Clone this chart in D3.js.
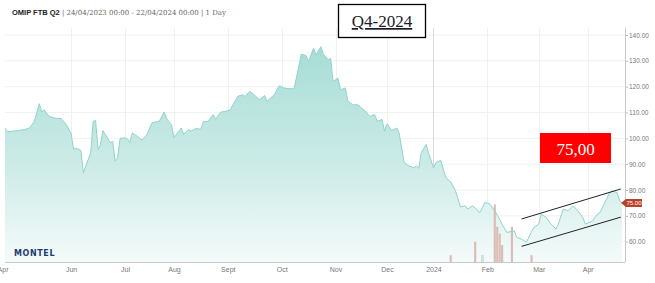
<!DOCTYPE html>
<html>
<head>
<meta charset="utf-8">
<script src="https://cdn.jsdelivr.net/npm/d3@7"></script>
<style>
  body { margin: 0; background: #fff; }
  svg { display: block; }
  .axis text { font-family: "Liberation Sans", Arial, sans-serif; fill: #777; }
</style>
</head>
<body>
<div id="chart"></div>
<script>
// trading-day index since 24/04/2023 and closing price (EUR/MWh)
const days = [0, 1, 5, 8, 10, 12, 14, 15, 16, 18, 20, 23, 25, 27, 28, 29, 31, 32, 35, 36, 37, 38, 39, 40, 41, 43, 44, 45, 46, 47, 49, 50, 51, 52, 54, 56, 58, 60, 63, 65, 66, 68, 69, 72, 73, 75, 76, 78, 80, 81, 83, 85, 86, 88, 91, 92, 95, 97, 98, 100, 102, 104, 106, 107, 110, 112, 114, 116, 118, 119, 121, 123, 124, 126, 127, 129, 130, 132, 133, 134, 136, 137, 139, 140, 142, 144, 147, 149, 151, 152, 154, 155, 156, 158, 160, 161, 163, 165, 167, 168, 169, 170, 172, 173, 175, 176, 178, 180, 182, 184, 186, 188, 189, 191, 194, 196, 198, 200, 202, 203, 205, 207, 208, 209, 211, 213, 214, 216, 218, 219, 221, 223, 225, 226, 228, 230, 232, 234, 236, 237, 240, 242, 243, 245, 247, 248, 250, 251, 252];
const prices = [104.0, 102.5, 103.0, 103.4, 104.0, 106.6, 113.4, 110.2, 111.0, 108.5, 107.9, 107.6, 105.3, 102.0, 95.7, 96.3, 95.3, 86.7, 94.4, 106.6, 106.9, 95.7, 97.6, 103.0, 101.5, 98.3, 98.9, 91.2, 92.5, 100.0, 100.2, 99.8, 98.5, 102.1, 100.8, 99.3, 101.5, 106.0, 106.6, 110.2, 107.6, 105.3, 100.2, 104.0, 101.5, 103.4, 102.8, 103.8, 103.5, 106.4, 106.6, 109.2, 107.3, 110.1, 110.7, 111.1, 116.2, 116.9, 116.2, 118.2, 116.6, 115.0, 116.6, 114.3, 116.9, 120.4, 119.5, 119.2, 119.2, 123.3, 132.6, 132.0, 129.7, 134.9, 132.3, 135.5, 132.6, 130.4, 131.0, 122.0, 123.3, 118.8, 119.5, 114.6, 113.0, 113.0, 110.7, 108.5, 109.2, 106.6, 107.3, 102.8, 105.6, 103.0, 104.0, 102.0, 90.6, 89.3, 88.6, 89.3, 88.4, 94.4, 97.6, 94.4, 88.6, 90.6, 91.5, 84.8, 83.2, 79.7, 73.5, 73.9, 72.6, 73.9, 71.3, 75.2, 74.6, 72.0, 68.7, 66.8, 63.6, 64.0, 64.2, 61.7, 61.0, 59.8, 61.9, 65.5, 66.8, 70.7, 69.4, 66.8, 64.9, 66.8, 72.6, 72.0, 73.9, 72.0, 69.4, 66.8, 68.1, 70.7, 71.3, 75.2, 79.0, 79.7, 79.0, 75.8, 75.0];

// traded volume bars
const volDays = [182, 192, 195, 200, 201, 202, 203, 207, 215];
const volumes = [10, 30, 10, 85, 52, 42, 25, 52, 10];

// month labels on the x axis
const monthLabels = ["Apr", "Jun", "Jul", "Aug", "Sept", "Oct", "Nov", "Dec", "2024", "Feb", "Mar", "Apr"];
const monthDays = [-1, 27, 49, 69, 91, 113, 135, 156, 175, 197, 218, 238];

const yTicks = [60, 70, 80, 90, 100, 110, 120, 130, 140];

// hand drawn trend channel
const channelDays = [211, 251.5];
const channelUpper = [68.8, 80.4];
const channelLower = [58.2, 69.5];

const lastPrice = 75.00;

const width = 655, height = 283;
const svg = d3.select("#chart").append("svg")
  .attr("width", width)
  .attr("height", height);

const x = d3.scaleLinear().domain([0, 252]).range([5, 622]);
const y = d3.scaleLinear().domain([60, 140]).range([241.7, 35]);
const plotTop = 28, plotBottom = 262, axisX = 625;
const yVol = d3.scaleLinear().domain([0, 90]).range([plotBottom, plotBottom - 61]);

const defs = svg.append("defs");
const grad = defs.append("linearGradient")
  .attr("id", "fillGrad")
  .attr("gradientUnits", "userSpaceOnUse")
  .attr("x1", 0).attr("x2", 0)
  .attr("y1", y(135)).attr("y2", plotBottom);
grad.append("stop").attr("offset", "0%").attr("stop-color", "#a7ddd6");
grad.append("stop").attr("offset", "55%").attr("stop-color", "#cdebe7");
grad.append("stop").attr("offset", "100%").attr("stop-color", "#f4fbfa");

// header
const header = svg.append("text").attr("x", 12).attr("y", 15)
  .style("font-size", "7.5px");
header.append("tspan")
  .style("font-family", "'Liberation Sans', Arial, sans-serif")
  .style("font-weight", "bold").attr("fill", "#222")
  .text("OMIP FTB Q2 ");
header.append("tspan")
  .style("font-family", "'DejaVu Serif', Georgia, serif")
  .style("font-size", "7px")
  .attr("fill", "#666")
  .text("| 24/04/2023 00:00 - 22/04/2024 00:00 | 1 Day");

// grid
svg.append("g").selectAll("line")
  .data(yTicks).join("line")
  .attr("x1", 5).attr("x2", axisX)
  .attr("y1", d => y(d)).attr("y2", d => y(d))
  .attr("stroke", "#f1f1f1").attr("stroke-width", 1);

svg.append("g").selectAll("line")
  .data(monthDays.slice(1)).join("line")
  .attr("x1", d => Math.round(x(d)) + 0.5).attr("x2", d => Math.round(x(d)) + 0.5)
  .attr("y1", plotTop).attr("y2", plotBottom)
  .attr("stroke", (d, i) => monthLabels[i + 1] === "2024" ? "#dcdcdc" : "#f0f0f0")
  .attr("stroke-width", 1);

const series = days.map((d, i) => ({ d: d, v: prices[i] }));

// area + line
svg.append("path")
  .datum(series)
  .attr("fill", "url(#fillGrad)")
  .attr("d", d3.area().x(p => x(p.d)).y0(plotBottom).y1(p => y(p.v)));

// volume bars
svg.append("g").selectAll("rect")
  .data(volDays.map((d, i) => ({ d: d, v: volumes[i] })))
  .join("rect")
  .attr("x", p => x(p.d) - 1)
  .attr("width", 2.2)
  .attr("y", p => yVol(p.v))
  .attr("height", p => plotBottom - yVol(p.v))
  .attr("fill", (p, i) => i === 2 ? "#cfe8e2" : "#dcbdb5")
  .attr("stroke", (p, i) => i === 2 ? "#b7d9d0" : "none")
  .attr("stroke-width", 0.5);

svg.append("path")
  .datum(series)
  .attr("fill", "none")
  .attr("stroke", "#8fd5cb")
  .attr("stroke-width", 1)
  .attr("d", d3.line().x(p => x(p.d)).y(p => y(p.v)));

// trend channel
[channelUpper, channelLower].forEach(vals => {
  svg.append("line")
    .attr("x1", x(channelDays[0])).attr("y1", y(vals[0]))
    .attr("x2", x(channelDays[1])).attr("y2", y(vals[1]))
    .attr("stroke", "#222").attr("stroke-width", 1);
});

// axes
const yAxis = svg.append("g")
  .attr("class", "axis")
  .attr("transform", `translate(${axisX},0)`)
  .call(d3.axisRight(y).tickValues(yTicks).tickFormat(d3.format(".2f")).tickSize(3).tickPadding(1));
yAxis.select(".domain").remove();
yAxis.selectAll(".tick line").attr("stroke", "#bbb");
yAxis.selectAll("text").style("font-size", "6.5px");
svg.append("line")
  .attr("x1", axisX + 0.5).attr("x2", axisX + 0.5)
  .attr("y1", plotTop).attr("y2", plotBottom)
  .attr("stroke", "#c8c8c8");

const xAxis = svg.append("g")
  .attr("class", "axis")
  .attr("transform", `translate(0,${plotBottom})`)
  .call(d3.axisBottom(x).tickValues(monthDays).tickFormat((d, i) => monthLabels[i]).tickSize(0).tickPadding(5));
xAxis.select(".domain").remove();
xAxis.selectAll("text").style("font-size", "7px");
svg.append("line")
  .attr("x1", 5).attr("x2", axisX)
  .attr("y1", plotBottom + 0.5).attr("y2", plotBottom + 0.5)
  .attr("stroke", "#c8c8c8");

// last price tag on axis
const ty = y(lastPrice);
svg.append("path")
  .attr("d", `M${axisX - 4},${ty} L${axisX + 1},${ty - 4} L${axisX + 17},${ty - 4} L${axisX + 17},${ty + 4} L${axisX + 1},${ty + 4} Z`)
  .attr("fill", "#b9402a");
svg.append("text")
  .attr("x", axisX + 9).attr("y", ty + 2.3)
  .attr("text-anchor", "middle")
  .style("font-family", "'Liberation Sans', Arial, sans-serif")
  .style("font-size", "6px")
  .attr("fill", "#fff")
  .text(d3.format(".2f")(lastPrice));

// logo
svg.append("text")
  .attr("x", 14).attr("y", 256)
  .style("font-family", "'DejaVu Sans', sans-serif")
  .style("font-weight", "bold")
  .style("font-size", "8px")
  .style("letter-spacing", "0.6px")
  .attr("fill", "#1d3b6e")
  .text("MONTEL");

// red price box
svg.append("rect")
  .attr("x", 540).attr("y", 133).attr("width", 71).attr("height", 30)
  .attr("fill", "#ff0000");
svg.append("text")
  .attr("x", 575.5).attr("y", 154.5)
  .attr("text-anchor", "middle")
  .style("font-family", "'Liberation Serif', 'Times New Roman', serif")
  .style("font-size", "17px")
  .attr("fill", "#fff")
  .text(d3.format(".2f")(lastPrice).replace(".", ","));

// contract box
svg.append("rect")
  .attr("x", 338.5).attr("y", 4.5).attr("width", 87).attr("height", 33)
  .attr("fill", "#fff").attr("stroke", "#000").attr("stroke-width", 1.3);
svg.append("text")
  .attr("x", 382).attr("y", 27)
  .attr("text-anchor", "middle")
  .style("font-family", "'Liberation Serif', 'Times New Roman', serif")
  .style("font-size", "17px")
  .style("text-decoration", "underline")
  .attr("fill", "#1a1a2a")
  .text("Q4-2024");
</script>
</body>
</html>
